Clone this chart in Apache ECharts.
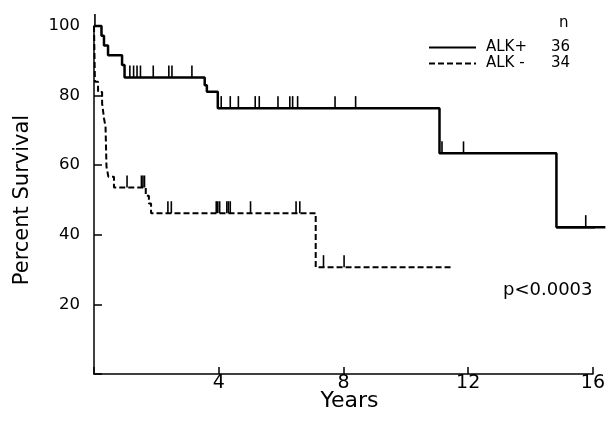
<!DOCTYPE html>
<html>
<head>
<meta charset="utf-8">
<script src="https://cdn.jsdelivr.net/npm/echarts@6/dist/echarts.min.js"></script>
<style>html,body{margin:0;padding:0;background:#fff}#c{width:608px;height:425px}</style>
</head>
<body>
<div id="c"></div>
<script>
// Kaplan-Meier step data (time in years, percent survival after event)
const alkPosTime = [0, 0.24, 0.32, 0.45, 0.9, 0.98, 3.55, 3.62, 3.97, 11.08, 14.83, 16.4];
const alkPosSurv = [100, 97.2, 94.4, 91.6, 88.8, 85.2, 83, 81.1, 76.4, 63.4, 42.2, 42.2];
const alkNegTime = [0, 0.03, 0.13, 0.26, 0.32, 0.37, 0.40, 0.46, 0.64, 1.66, 1.76, 1.83, 7.11, 11.47];
const alkNegSurv = [100, 84, 81, 77.8, 73.5, 71, 59.6, 56.7, 53.6, 51.2, 49, 46.2, 30.7, 30.7];
// censored observations
const alkPosCensorTime = [0.03, 1.15, 1.27, 1.38, 1.49, 1.9, 2.40, 2.50, 3.14, 4.08, 4.37, 4.63, 5.17, 5.30, 5.90, 6.28, 6.37, 6.53, 7.73, 8.39, 11.16, 11.85, 15.77];
const alkPosCensorSurv = [100, 85.2, 85.2, 85.2, 85.2, 85.2, 85.2, 85.2, 85.2, 76.4, 76.4, 76.4, 76.4, 76.4, 76.4, 76.4, 76.4, 76.4, 76.4, 76.4, 63.4, 63.4, 42.2];
const alkNegCensorTime = [1.06, 1.52, 1.57, 1.62, 2.37, 2.48, 3.92, 3.97, 4.03, 4.26, 4.31, 4.37, 5.02, 6.48, 6.6, 7.36, 8.02];
const alkNegCensorSurv = [53.6, 53.6, 53.6, 53.6, 46.2, 46.2, 46.2, 46.2, 46.2, 46.2, 46.2, 46.2, 46.2, 46.2, 46.2, 30.7, 30.7];
const groupNames = ['ALK+', 'ALK-'];
const groupLabels = ['ALK+', 'ALK -'];
const groupN = [36, 34];
const yTicks = [20, 40, 60, 80, 100];
const xTicks = [4, 8, 12, 16];
const pText = 'p<0.0003';

const FONT = 'DejaVu Sans';
const zip = (a, b) => a.map((v, i) => [v, b[i]]);
function censorItem(params, api) {
  const p = api.coord([api.value(0), api.value(1)]);
  return { type: 'line', shape: { x1: p[0], y1: p[1], x2: p[0], y2: p[1] - 12 },
    style: { stroke: '#000', lineWidth: 1.6 } };
}
// tail of the ALK+ curve beyond the last axis tick (drawn unclipped)
const nP = alkPosTime.length;
const tailData = [[alkPosTime[nP - 2], alkPosSurv[nP - 2], alkPosTime[nP - 1]]];
function tailItem(params, api) {
  const a = api.coord([api.value(0), api.value(1)]);
  const b = api.coord([api.value(2), api.value(1)]);
  return { type: 'line', shape: { x1: a[0], y1: a[1], x2: b[0], y2: b[1] },
    style: { stroke: '#000', lineWidth: 2.5 } };
}
const chart = echarts.init(document.getElementById('c'), null, { renderer: 'canvas' });
chart.setOption({
  animation: false,
  backgroundColor: '#fff',
  grid: { left: 94, right: 13, top: 26, bottom: 51 },
  xAxis: {
    type: 'value', min: 0, max: 16, interval: 4,
    name: 'Years', nameLocation: 'middle', nameGap: 16, nameMoveOverlap: false,
    nameTextStyle: { fontFamily: FONT, fontSize: 22, color: '#000', padding: [0, 0, 0, 12] },
    axisLine: { show: true, lineStyle: { color: '#000', width: 1.5 } },
    axisTick: { show: true, inside: true, length: 7, lineStyle: { color: '#000', width: 1.5 } },
    axisLabel: { fontFamily: FONT, fontSize: 19, color: '#000', margin: 0,
      formatter: v => xTicks.includes(v) ? String(v) : '' },
    splitLine: { show: false }
  },
  yAxis: {
    type: 'value', min: 0, max: 100, interval: 20,
    name: 'Percent Survival', nameLocation: 'middle', nameGap: 61, nameRotate: 90,
    nameTextStyle: { fontFamily: FONT, fontSize: 21, color: '#000' },
    axisLine: { show: true, lineStyle: { color: '#000', width: 1.5 } },
    axisTick: { show: true, inside: true, length: 8, lineStyle: { color: '#000', width: 1.5 } },
    axisLabel: { fontFamily: FONT, fontSize: 16.5, color: '#000', margin: 14,
      formatter: v => yTicks.includes(v) ? String(v) : '' },
    splitLine: { show: false }
  },
  legend: {
    data: groupNames, orient: 'vertical', left: 428, top: 40, padding: 0,
    itemWidth: 47, itemHeight: 14, itemGap: 1, itemStyle: { opacity: 0 },
    textStyle: { fontFamily: FONT, fontSize: 15, color: '#000',
      rich: { a: { fontFamily: FONT, fontSize: 15, width: 65, padding: [0, 0, 0, 5] }, b: { fontFamily: FONT, fontSize: 15 } } },
    formatter: name => { const i = groupNames.indexOf(name); return '{a|' + groupLabels[i] + '}{b|' + groupN[i] + '}'; }
  },
  graphic: [
    { type: 'text', left: 559, top: 16, style: { text: 'n', font: '15px "DejaVu Sans"', fill: '#000' } },
    { type: 'text', left: 503, top: 281, style: { text: pText, font: '18px "DejaVu Sans"', fill: '#000' } }
  ],
  series: [
    { name: 'ALK+', type: 'line', step: 'end', symbol: 'none', clip: false,
      data: zip(alkPosTime, alkPosSurv),
      lineStyle: { color: '#000', width: 2.5 }, itemStyle: { color: '#000' } },
    { name: 'ALK-', type: 'line', step: 'end', symbol: 'none', clip: false,
      data: zip(alkNegTime, alkNegSurv),
      lineStyle: { color: '#000', width: 2, type: [6, 3] }, itemStyle: { color: '#000' } },
    { name: 'ALK+ tail', type: 'custom', renderItem: tailItem, data: tailData },
    { name: 'ALK+ censored', type: 'custom', renderItem: censorItem, data: zip(alkPosCensorTime, alkPosCensorSurv) },
    { name: 'ALK- censored', type: 'custom', renderItem: censorItem, data: zip(alkNegCensorTime, alkNegCensorSurv) }
  ]
});
</script>
</body>
</html>
